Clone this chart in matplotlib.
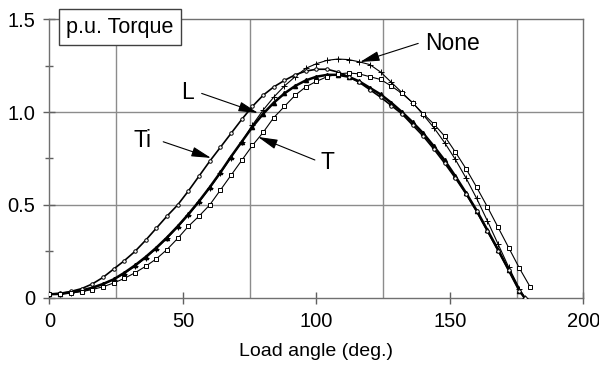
import matplotlib
matplotlib.use("Agg")
import matplotlib.pyplot as plt
from matplotlib.ticker import FixedLocator

plt.rcParams['font.family'] = ['Liberation Sans', 'DejaVu Sans']

# ---- data ----
angle = [0, 4, 8, 12, 16, 20, 24, 28, 32, 36, 40, 44, 48, 52, 56, 60, 64, 68, 72, 76,
         80, 84, 88, 92, 96, 100, 104, 108, 112, 116, 120, 124, 128, 132, 136, 140,
         144, 148, 152, 156, 160, 164, 168, 172, 176, 178]
angle_T = [0, 4, 8, 12, 16, 20, 24, 28, 32, 36, 40, 44, 48, 52, 56, 60, 64, 68, 72, 76,
           80, 84, 88, 92, 96, 100, 104, 108, 112, 116, 120, 124, 128, 132, 136, 140,
           144, 148, 152, 156, 160, 164, 168, 172, 176, 180]

torque_none = [0.02, 0.022, 0.028, 0.038, 0.052, 0.072, 0.098, 0.13, 0.17, 0.215, 0.265,
               0.32, 0.38, 0.445, 0.515, 0.59, 0.67, 0.755, 0.84, 0.93, 1.01, 1.08, 1.14,
               1.19, 1.235, 1.26, 1.278, 1.285, 1.282, 1.27, 1.255, 1.215, 1.16, 1.105,
               1.05, 0.985, 0.915, 0.835, 0.745, 0.645, 0.535, 0.415, 0.29, 0.165, 0.05, 0.0]
torque_L = [0.02, 0.022, 0.03, 0.04, 0.055, 0.075, 0.10, 0.135, 0.175, 0.22, 0.27, 0.325,
            0.385, 0.45, 0.52, 0.595, 0.675, 0.76, 0.84, 0.92, 0.99, 1.05, 1.1, 1.14, 1.17,
            1.19, 1.2, 1.2, 1.19, 1.165, 1.13, 1.095, 1.05, 1.0, 0.945, 0.885, 0.815, 0.74,
            0.655, 0.565, 0.47, 0.365, 0.26, 0.15, 0.04, 0.0]
torque_Ti = [0.02, 0.025, 0.035, 0.05, 0.075, 0.11, 0.155, 0.2, 0.25, 0.31, 0.375, 0.44,
             0.5, 0.575, 0.655, 0.735, 0.81, 0.885, 0.96, 1.03, 1.09, 1.135, 1.17, 1.2,
             1.22, 1.23, 1.23, 1.215, 1.19, 1.16, 1.12, 1.08, 1.035, 0.99, 0.93, 0.87, 0.8,
             0.725, 0.645, 0.56, 0.465, 0.36, 0.255, 0.15, 0.04, 0.0]
torque_T = [0.02, 0.021, 0.026, 0.034, 0.045, 0.06, 0.08, 0.105, 0.135, 0.17, 0.21, 0.26,
            0.32, 0.385, 0.44, 0.5, 0.58, 0.66, 0.74, 0.82, 0.89, 0.97, 1.03, 1.09, 1.135,
            1.165, 1.19, 1.205, 1.21, 1.205, 1.19, 1.175, 1.14, 1.1, 1.05, 0.99, 0.935,
            0.87, 0.785, 0.695, 0.595, 0.49, 0.38, 0.27, 0.16, 0.06]

x_ticks = [0, 50, 100, 150, 200]
x_tick_labels = ["0", "50", "100", "150", "200"]
y_ticks = [0, 0.5, 1.0, 1.5]
y_tick_labels = ["0", "0.5", "1.0", "1.5"]

# ---- figure ----
fig = plt.figure(figsize=(5.99, 3.81), dpi=100)
ax = fig.add_axes([0.0826, 0.218, 0.8915, 0.732])
ax.set_xlim(0, 200)
ax.set_ylim(0, 1.5)

grid_c = '#8c8c8c'
for gx in [25, 75, 125, 175]:
    ax.axvline(gx, color=grid_c, lw=1.0, zorder=0)
for gy in [0.5, 1.0]:
    ax.axhline(gy, color=grid_c, lw=1.0, zorder=0)

ax.plot(angle, torque_none, color='black', lw=0.8, marker='+', ms=4, mew=0.7, zorder=3)
ax.plot(angle, torque_L, color='black', lw=1.8, marker='^', ms=3, zorder=3)
ax.plot(angle, torque_Ti, color='black', lw=1.2, marker='o', ms=2.5, mfc='white',
        mew=0.7, zorder=3)
ax.plot(angle_T, torque_T, color='black', lw=0.8, marker='s', ms=3.5, mfc='white',
        mew=0.7, zorder=3)

ax.set_xticks(x_ticks)
ax.set_xticklabels(x_tick_labels)
ax.set_yticks(y_ticks)
ax.set_yticklabels(y_tick_labels)
ax.yaxis.set_minor_locator(FixedLocator([0.25, 0.75, 1.25]))
ax.tick_params(axis='both', which='major', direction='inout', length=8, width=1.0,
               color='#606060', labelsize=14.5, pad=6)
ax.tick_params(axis='both', which='minor', direction='inout', length=6, width=1.0,
               color='#606060')
for s in ax.spines.values():
    s.set_color('#707070')
    s.set_linewidth(1.0)

ax.set_xlabel("Load angle (deg.)", fontsize=14, labelpad=9)

ax.text(26.4, 1.457, "p.u. Torque", fontsize=15.5, ha='center', va='center',
        clip_on=False, zorder=5,
        bbox=dict(boxstyle='square,pad=0.35', fc='white', ec='#404040', lw=1.0))

arrow = dict(arrowstyle='-|>,head_length=1.0,head_width=0.25', color='black', lw=0.8,
             shrinkA=0, shrinkB=0, mutation_scale=12)
ax.annotate("", xy=(116.3, 1.269), xytext=(138.1, 1.369), arrowprops=arrow, zorder=4)
ax.annotate("", xy=(78.1, 0.995), xytext=(57.0, 1.10), arrowprops=arrow, zorder=4)
ax.annotate("", xy=(60.5, 0.753), xytext=(42.6, 0.84), arrowprops=arrow, zorder=4)
ax.annotate("", xy=(78.1, 0.866), xytext=(99.4, 0.742), arrowprops=arrow, zorder=4)

ax.text(150.9, 1.367, "None", fontsize=16.5, ha='center', va='center')
ax.text(51.7, 1.105, "L", fontsize=16.5, ha='center', va='center')
ax.text(35.0, 0.849, "Ti", fontsize=16.5, ha='center', va='center')
ax.text(104.1, 0.731, "T", fontsize=16.5, ha='center', va='center')

fig.savefig("out.png", dpi=100, facecolor='white')
